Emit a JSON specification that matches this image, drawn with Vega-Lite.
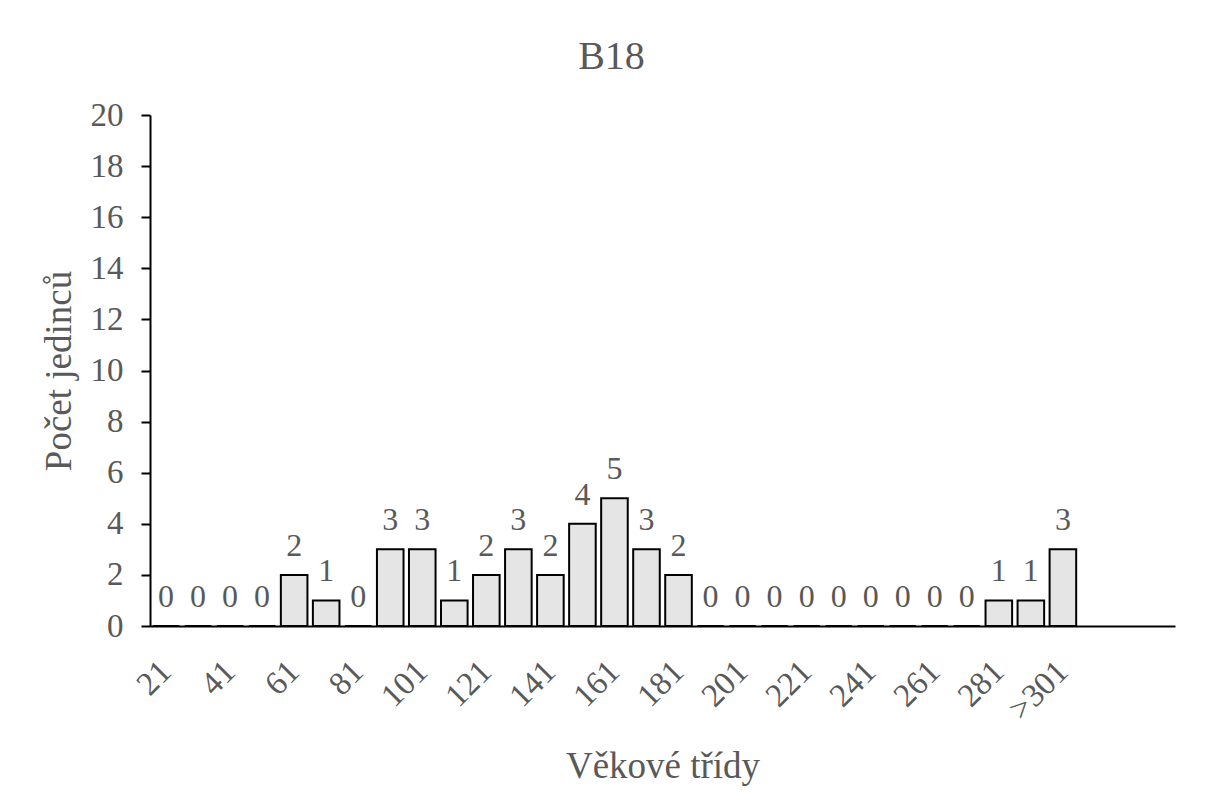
{
  "$schema": "https://vega.github.io/schema/vega-lite/v6.json",
  "autosize": {"type": "none"},
  "padding": {"left": 150, "top": 115, "right": 32, "bottom": 183},
  "width": 1025,
  "height": 511,
  "background": "white",
  "title": {
    "text": "B18",
    "font": "Liberation Serif",
    "fontSize": 40,
    "fontWeight": "normal",
    "color": "#595959",
    "anchor": "middle",
    "dx": -51,
    "offset": 22
  },
  "data": {
    "values": [
      {"trida": "21", "pocet": 0},
      {"trida": "31", "pocet": 0},
      {"trida": "41", "pocet": 0},
      {"trida": "51", "pocet": 0},
      {"trida": "61", "pocet": 2},
      {"trida": "71", "pocet": 1},
      {"trida": "81", "pocet": 0},
      {"trida": "91", "pocet": 3},
      {"trida": "101", "pocet": 3},
      {"trida": "111", "pocet": 1},
      {"trida": "121", "pocet": 2},
      {"trida": "131", "pocet": 3},
      {"trida": "141", "pocet": 2},
      {"trida": "151", "pocet": 4},
      {"trida": "161", "pocet": 5},
      {"trida": "171", "pocet": 3},
      {"trida": "181", "pocet": 2},
      {"trida": "191", "pocet": 0},
      {"trida": "201", "pocet": 0},
      {"trida": "211", "pocet": 0},
      {"trida": "221", "pocet": 0},
      {"trida": "231", "pocet": 0},
      {"trida": "241", "pocet": 0},
      {"trida": "251", "pocet": 0},
      {"trida": "261", "pocet": 0},
      {"trida": "271", "pocet": 0},
      {"trida": "281", "pocet": 1},
      {"trida": "291", "pocet": 1},
      {"trida": ">301", "pocet": 3}
    ]
  },
  "encoding": {
    "x": {
      "field": "trida",
      "type": "nominal",
      "sort": null,
      "scale": {
        "domain": ["21","31","41","51","61","71","81","91","101","111","121","131","141","151","161","171","181","191","201","211","221","231","241","251","261","271","281","291",">301","e1","e2","e3"],
        "paddingInner": 0.17,
        "paddingOuter": 0.085
      },
      "axis": {
        "title": "Věkové třídy",
        "values": ["21","41","61","81","101","121","141","161","181","201","221","241","261","281",">301"],
        "labelAngle": -45,
        "labelAlign": "right",
        "labelBaseline": "middle",
        "labelPadding": 40,
        "ticks": false,
        "tickSize": 0,
        "labelFont": "Liberation Serif",
        "labelFontSize": 33,
        "labelColor": "#595959",
        "titleFont": "Liberation Serif",
        "titleFontSize": 37,
        "titleFontWeight": "normal",
        "titleColor": "#595959",
        "titlePadding": 22,
        "domainColor": "black",
        "domainWidth": 2,
        "grid": false
      }
    },
    "y": {
      "field": "pocet",
      "type": "quantitative",
      "scale": {"domain": [0, 20], "nice": false},
      "axis": {
        "title": "Počet jedinců",
        "values": [0,2,4,6,8,10,12,14,16,18,20],
        "grid": false,
        "tickSize": 9,
        "tickColor": "black",
        "tickWidth": 2,
        "labelPadding": 18,
        "labelFont": "Liberation Serif",
        "labelFontSize": 33,
        "labelColor": "#595959",
        "titleFont": "Liberation Serif",
        "titleFontSize": 37,
        "titleFontWeight": "normal",
        "titleColor": "#595959",
        "titlePadding": 12,
        "domainColor": "black",
        "domainWidth": 2
      }
    }
  },
  "layer": [
    {
      "mark": {"type": "bar", "fill": "#e5e5e5", "stroke": "black", "strokeWidth": 2}
    },
    {
      "mark": {
        "type": "text",
        "font": "Liberation Serif",
        "fontSize": 32,
        "color": "#595959",
        "baseline": "alphabetic",
        "dy": -19
      },
      "encoding": {"text": {"field": "pocet", "type": "quantitative"}}
    }
  ],
  "config": {"view": {"stroke": null}}
}
